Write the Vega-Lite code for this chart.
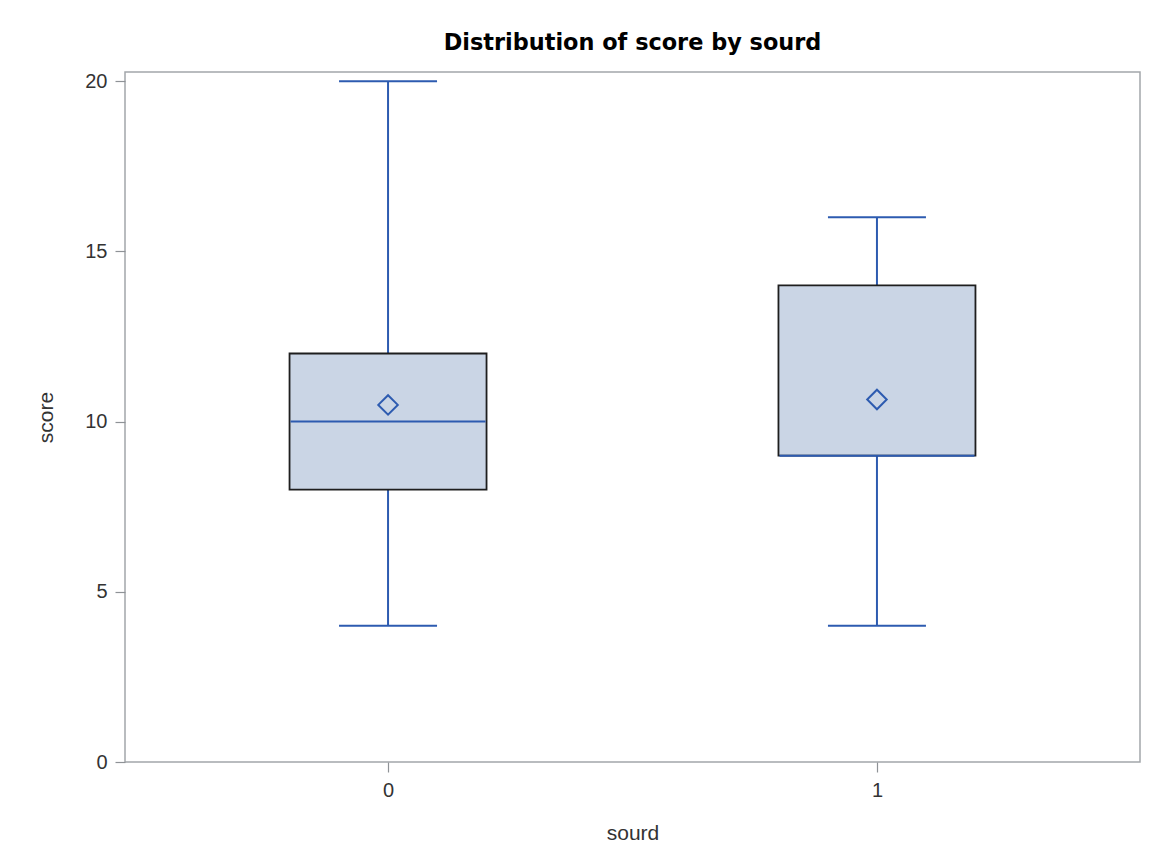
{
  "$schema": "https://vega.github.io/schema/vega-lite/v6.json",
  "autosize": "none",
  "padding": {"left": 125, "top": 72, "right": 12, "bottom": 104},
  "width": 1015,
  "height": 690,
  "background": "white",
  "title": {
    "text": "Distribution of score by sourd",
    "font": "DejaVu Sans",
    "fontSize": 22.4,
    "fontWeight": "bold",
    "color": "#000000",
    "anchor": "middle",
    "offset": 17
  },
  "data": {
    "values": [
      {"sourd": "0", "lower": 4, "q1": 8, "median": 10, "q3": 12, "upper": 20, "mean": 10.49},
      {"sourd": "1", "lower": 4, "q1": 9, "median": 9, "q3": 14, "upper": 16, "mean": 10.65}
    ]
  },
  "config": {
    "view": {"stroke": "#a3a6aa", "strokeWidth": 1.5},
    "axis": {
      "labelFont": "Liberation Sans",
      "labelFontSize": 20,
      "labelColor": "#333333",
      "titleFont": "Liberation Sans",
      "titleFontSize": 21,
      "titleFontWeight": "normal",
      "titleColor": "#333333",
      "tickColor": "#8e9296",
      "tickSize": 10,
      "tickWidth": 1.2,
      "domain": false,
      "grid": false
    }
  },
  "encoding": {
    "x": {
      "field": "sourd",
      "type": "nominal",
      "scale": {"type": "point", "padding": 0.538},
      "axis": {"title": "sourd", "labelAngle": 0, "labelPadding": 8, "titlePadding": 22}
    }
  },
  "layer": [
    {
      "mark": {"type": "rule", "color": "#2d5bb0", "strokeWidth": 2},
      "encoding": {
        "y": {
          "field": "lower",
          "type": "quantitative",
          "scale": {"domain": [0, 20.27], "nice": false, "zero": false},
          "axis": {"title": "score", "values": [0, 5, 10, 15, 20], "labelPadding": 8, "titlePadding": 28}
        },
        "y2": {"field": "upper"}
      }
    },
    {
      "mark": {"type": "tick", "orient": "horizontal", "color": "#2d5bb0", "opacity": 1, "size": 98, "thickness": 2},
      "encoding": {"y": {"field": "lower", "type": "quantitative"}}
    },
    {
      "mark": {"type": "tick", "orient": "horizontal", "color": "#2d5bb0", "opacity": 1, "size": 98, "thickness": 2},
      "encoding": {"y": {"field": "upper", "type": "quantitative"}}
    },
    {
      "mark": {"type": "bar", "size": 197, "fill": "#cad5e5", "stroke": "#1e1e1e", "strokeWidth": 1.8},
      "encoding": {
        "y": {"field": "q1", "type": "quantitative"},
        "y2": {"field": "q3"}
      }
    },
    {
      "mark": {"type": "tick", "orient": "horizontal", "color": "#2d5bb0", "opacity": 1, "size": 195, "thickness": 2},
      "encoding": {"y": {"field": "median", "type": "quantitative"}}
    },
    {
      "mark": {"type": "point", "shape": "diamond", "size": 380, "filled": false, "stroke": "#2d5bb0", "strokeWidth": 2, "opacity": 1},
      "encoding": {"y": {"field": "mean", "type": "quantitative"}}
    }
  ]
}
